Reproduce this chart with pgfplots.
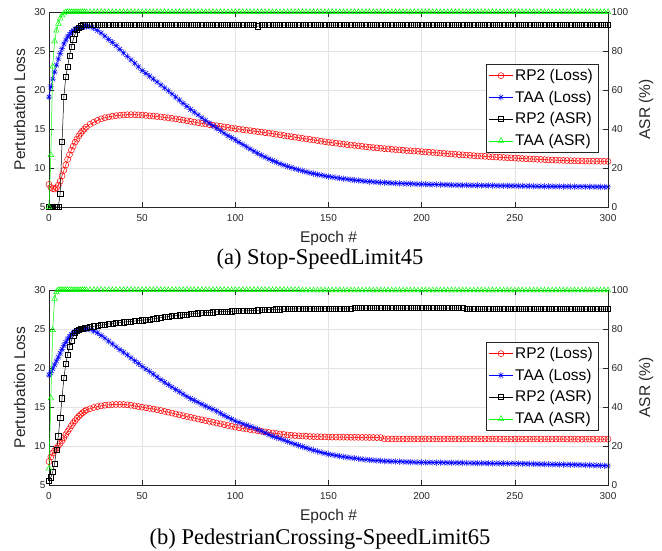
\documentclass[border=0pt]{standalone}
\usepackage{fontspec}
\setmainfont{Liberation Sans}
\newfontfamily\capfont{Liberation Serif}
\usepackage{pgfplots}
\usepackage{pgfplotstable}
\pgfplotsset{compat=1.18}

\pgfdeclareplotmark{mstar}{%
  \pgfpathmoveto{\pgfqpoint{-\pgfplotmarksize}{0pt}}\pgfpathlineto{\pgfqpoint{\pgfplotmarksize}{0pt}}%
  \pgfpathmoveto{\pgfqpoint{0pt}{-\pgfplotmarksize}}\pgfpathlineto{\pgfqpoint{0pt}{\pgfplotmarksize}}%
  \pgfpathmoveto{\pgfqpoint{-0.707\pgfplotmarksize}{-0.707\pgfplotmarksize}}\pgfpathlineto{\pgfqpoint{0.707\pgfplotmarksize}{0.707\pgfplotmarksize}}%
  \pgfpathmoveto{\pgfqpoint{-0.707\pgfplotmarksize}{0.707\pgfplotmarksize}}\pgfpathlineto{\pgfqpoint{0.707\pgfplotmarksize}{-0.707\pgfplotmarksize}}%
  \pgfusepathqstroke}

\pgfplotstableread{
e rl tl ra ta
0 7.9 19.1 0 0
1 7.5 20.4 0 26.7
2 7.35 21.4 0 72
3 7.3 22.3 0 85
4 7.45 23.2 0 90.5
5 7.8 24.0 0 94
6 8.3 24.7 6.7 96.7
7 9.0 25.3 33.3 98.3
8 9.7 25.9 56.7 99.3
9 10.4 26.4 66.7 100
10 11.1 26.8 72 100
11 11.7 27.1 77.5 100
12 12.3 27.4 82 100
13 12.8 27.6 86 100
14 13.3 27.8 88.7 100
15 13.7 27.9 90.7 100
16 14.1 28.0 92 100
17 14.45 28.05 92.7 100
18 14.75 28.1 93.3 100
19 15.0 28.12 93.3 100
20 15.25 28.15 93.3 100
22 15.6 28.1 93.3 100
24 15.87 27.95 93.3 100
26 16.1 27.65 93.3 100
28 16.3 27.3 93.3 100
30 16.45 26.9 93.3 100
32 16.55 26.5 93.3 100
34 16.64 26.1 93.3 100
36 16.71 25.68 93.3 100
38 16.76 25.22 93.3 100
40 16.8 24.75 93.3 100
42 16.83 24.31 93.3 100
44 16.84 23.87 93.3 100
46 16.83 23.43 93.3 100
48 16.81 22.97 93.3 100
50 16.78 22.5 93.3 100
52 16.74 22.14 93.3 100
54 16.69 21.78 93.3 100
56 16.65 21.41 93.3 100
58 16.6 21.03 93.3 100
60 16.55 20.65 93.3 100
62 16.49 20.27 93.3 100
64 16.43 19.89 93.3 100
66 16.36 19.5 93.3 100
68 16.29 19.1 93.3 100
70 16.22 18.7 93.3 100
72 16.14 18.3 93.3 100
74 16.05 17.9 93.3 100
76 15.97 17.52 93.3 100
78 15.88 17.16 93.3 100
80 15.8 16.8 93.3 100
82 15.72 16.44 93.3 100
84 15.65 16.08 93.3 100
86 15.57 15.74 93.3 100
88 15.5 15.42 93.3 100
90 15.42 15.1 93.3 100
92 15.35 14.78 93.3 100
94 15.27 14.46 93.3 100
96 15.2 14.16 93.3 100
98 15.12 13.88 93.3 100
100 15.05 13.6 93.3 100
102 14.98 13.3 93.3 100
104 14.92 13.0 93.3 100
106 14.85 12.71 93.3 100
108 14.79 12.43 93.3 100
110 14.72 12.15 93.3 100
112 14.66 11.89 92.7 100
114 14.6 11.63 93.3 100
116 14.53 11.39 93.3 100
118 14.47 11.17 93.3 100
120 14.4 10.95 93.3 100
122 14.32 10.75 93.3 100
124 14.25 10.55 93.3 100
126 14.17 10.37 93.3 100
128 14.1 10.2 93.3 100
130 14.02 10.05 93.3 100
132 13.95 9.91 93.3 100
134 13.88 9.77 93.3 100
136 13.8 9.63 93.3 100
138 13.73 9.5 93.3 100
140 13.66 9.38 93.3 100
142 13.59 9.28 93.3 100
144 13.52 9.17 93.3 100
146 13.44 9.08 93.3 100
148 13.37 8.99 93.3 100
150 13.3 8.9 93.3 100
152 13.24 8.83 93.3 100
154 13.18 8.76 93.3 100
156 13.12 8.69 93.3 100
158 13.06 8.62 93.3 100
160 13.0 8.56 93.3 100
162 12.94 8.51 93.3 100
164 12.89 8.45 93.3 100
166 12.83 8.4 93.3 100
168 12.78 8.35 93.3 100
170 12.72 8.3 93.3 100
172 12.67 8.26 93.3 100
174 12.62 8.22 93.3 100
176 12.58 8.19 93.3 100
178 12.53 8.15 93.3 100
180 12.48 8.12 93.3 100
182 12.44 8.1 93.3 100
184 12.4 8.07 93.3 100
186 12.36 8.05 93.3 100
188 12.32 8.02 93.3 100
190 12.28 8.0 93.3 100
192 12.24 7.99 93.3 100
194 12.21 7.97 93.3 100
196 12.17 7.96 93.3 100
198 12.14 7.94 93.3 100
200 12.1 7.93 93.3 100
202 12.06 7.92 93.3 100
204 12.02 7.9 93.3 100
206 11.99 7.89 93.3 100
208 11.95 7.88 93.3 100
210 11.91 7.86 93.3 100
212 11.87 7.85 93.3 100
214 11.83 7.84 93.3 100
216 11.8 7.82 93.3 100
218 11.76 7.81 93.3 100
220 11.72 7.8 93.3 100
222 11.69 7.79 93.3 100
224 11.65 7.79 93.3 100
226 11.62 7.78 93.3 100
228 11.58 7.77 93.3 100
230 11.55 7.77 93.3 100
232 11.52 7.76 93.3 100
234 11.49 7.75 93.3 100
236 11.46 7.75 93.3 100
238 11.43 7.74 93.3 100
240 11.4 7.73 93.3 100
242 11.37 7.72 93.3 100
244 11.35 7.72 93.3 100
246 11.32 7.71 93.3 100
248 11.3 7.71 93.3 100
250 11.27 7.7 93.3 100
252 11.24 7.69 93.3 100
254 11.22 7.69 93.3 100
256 11.19 7.68 93.3 100
258 11.17 7.68 93.3 100
260 11.14 7.67 93.3 100
262 11.12 7.66 93.3 100
264 11.1 7.66 93.3 100
266 11.07 7.65 93.3 100
268 11.05 7.65 93.3 100
270 11.03 7.64 93.3 100
272 11.01 7.63 93.3 100
274 10.99 7.63 93.3 100
276 10.97 7.62 93.3 100
278 10.96 7.62 93.3 100
280 10.94 7.61 93.3 100
282 10.93 7.61 93.3 100
284 10.92 7.6 93.3 100
286 10.9 7.6 93.3 100
288 10.89 7.6 93.3 100
290 10.88 7.59 93.3 100
292 10.87 7.59 93.3 100
294 10.87 7.58 93.3 100
296 10.86 7.58 93.3 100
298 10.86 7.57 93.3 100
300 10.85 7.57 93.3 100
}\tA

\pgfplotstableread{
e rl tl ra ta
0 8.0 19.1 2 8.5
1 8.6 19.4 4 44.5
2 9.1 19.9 6.7 79.5
3 9.4 20.4 11 95.5
4 9.7 20.9 18 99
5 10.0 21.4 25 100
6 10.35 21.9 34.5 100
7 10.7 22.4 44.5 100
8 11.05 22.9 55 100
9 11.45 23.3 62 100
10 11.85 23.7 67 100
11 12.2 24.0 71 100
12 12.6 24.3 74 100
13 12.95 24.5 76.5 100
14 13.25 24.65 78 100
15 13.55 24.78 79 100
16 13.8 24.88 79.5 100
17 14.05 24.95 80 100
18 14.25 25.0 80.3 100
19 14.45 25.02 80.6 100
20 14.6 25.02 80.8 100
22 14.78 24.93 81.1 100
24 14.93 24.75 81.4 100
26 15.05 24.5 81.7 100
28 15.15 24.17 82.0 100
30 15.22 23.82 82.3 100
32 15.27 23.45 82.6 100
34 15.31 23.08 82.8 100
36 15.33 22.72 83.1 100
38 15.33 22.35 83.3 100
40 15.32 22.02 83.5 100
42 15.28 21.67 83.7 100
44 15.22 21.3 83.9 100
46 15.14 20.93 84.1 100
48 15.06 20.57 84.3 100
50 14.98 20.2 84.5 100
52 14.9 19.87 84.7 100
54 14.82 19.55 84.9 100
56 14.74 19.2 85.2 100
58 14.65 18.85 85.5 100
60 14.55 18.5 85.8 100
62 14.44 18.18 86.1 100
64 14.33 17.86 86.4 100
66 14.22 17.55 86.7 100
68 14.11 17.25 86.9 100
70 14.0 16.95 87.1 100
72 13.89 16.65 87.3 100
74 13.78 16.35 87.5 100
76 13.68 16.08 87.7 100
78 13.57 15.84 87.9 100
80 13.46 15.6 88.1 100
82 13.36 15.36 88.2 100
84 13.26 15.12 88.4 100
86 13.16 14.9 88.5 100
88 13.05 14.7 88.6 100
90 12.95 14.48 88.8 100
92 12.84 14.2 88.9 100
94 12.74 13.93 89.0 100
96 12.63 13.68 89.0 100
98 12.53 13.44 89.1 100
100 12.42 13.2 89.2 100
102 12.34 13.02 89.3 100
104 12.26 12.84 89.3 100
106 12.18 12.67 89.4 100
108 12.11 12.51 89.5 100
110 12.03 12.35 89.5 100
112 11.96 12.14 89.6 100
114 11.88 11.92 89.7 100
116 11.81 11.69 89.8 100
118 11.73 11.47 89.9 100
120 11.66 11.25 90.0 100
122 11.6 11.09 90.1 100
124 11.54 10.93 90.1 100
126 11.48 10.76 90.2 100
128 11.42 10.58 90.2 100
130 11.37 10.4 90.3 100
132 11.34 10.24 90.3 100
134 11.31 10.08 90.3 100
136 11.28 9.92 90.3 99.8
138 11.25 9.76 90.3 99.8
140 11.22 9.6 90.3 99.8
142 11.2 9.46 90.3 99.8
144 11.19 9.32 90.3 99.8
146 11.17 9.19 90.3 99.8
148 11.16 9.07 90.3 99.8
150 11.15 8.95 90.3 99.8
152 11.14 8.87 90.3 99.8
154 11.14 8.78 90.3 99.8
156 11.13 8.7 90.3 99.8
158 11.13 8.62 90.3 99.8
160 11.12 8.55 90.3 99.8
162 11.12 8.49 90.3 99.8
164 11.11 8.43 90.7 99.8
166 11.11 8.36 90.7 99.8
168 11.1 8.3 90.7 99.8
170 11.1 8.25 90.7 99.8
172 11.09 8.21 90.7 99.8
174 11.09 8.17 90.7 99.8
176 11.08 8.13 90.7 99.8
178 11.08 8.1 90.7 99.8
180 10.92 8.07 90.7 99.8
182 10.91 8.05 90.7 99.8
184 10.9 8.03 90.7 99.8
186 10.9 8.01 90.7 99.8
188 10.9 7.99 90.7 99.8
190 10.9 7.97 90.7 99.8
192 10.9 7.96 90.7 99.8
194 10.9 7.94 90.7 99.8
196 10.9 7.93 90.7 99.8
198 10.9 7.91 90.7 99.8
200 10.9 7.9 90.7 99.8
202 10.9 7.89 90.7 99.8
204 10.9 7.89 90.7 99.8
206 10.9 7.88 90.7 99.8
208 10.9 7.87 90.7 99.8
210 10.9 7.87 90.7 99.8
212 10.9 7.86 90.7 99.8
214 10.9 7.85 90.7 99.8
216 10.9 7.85 90.7 99.8
218 10.9 7.84 90.7 99.8
220 10.9 7.84 90.7 99.8
222 10.9 7.83 90.7 99.8
224 10.9 7.82 90.2 99.8
226 10.9 7.82 90.2 99.8
228 10.9 7.81 90.2 99.8
230 10.9 7.81 90.2 99.8
232 10.9 7.8 90.2 99.8
234 10.9 7.79 90.2 99.8
236 10.9 7.79 90.2 99.8
238 10.9 7.78 90.2 99.8
240 10.9 7.78 90.2 99.8
242 10.89 7.77 90.2 99.8
244 10.89 7.77 90.2 99.8
246 10.89 7.76 90.2 99.8
248 10.89 7.76 90.2 99.8
250 10.89 7.75 90.2 99.8
252 10.89 7.74 90.2 99.8
254 10.89 7.73 90.2 99.8
256 10.89 7.72 90.2 99.8
258 10.89 7.71 90.2 99.8
260 10.89 7.7 90.2 99.8
262 10.89 7.69 90.2 99.8
264 10.89 7.68 90.2 99.8
266 10.89 7.67 90.2 99.8
268 10.89 7.66 90.2 99.8
270 10.89 7.65 90.2 99.8
272 10.89 7.64 90.2 99.8
274 10.89 7.63 90.2 99.8
276 10.89 7.62 90.2 99.8
278 10.89 7.61 90.2 99.8
280 10.89 7.6 90.2 99.8
282 10.88 7.59 90.2 99.8
284 10.88 7.58 90.2 99.8
286 10.88 7.57 90.2 99.8
288 10.88 7.56 90.2 99.8
290 10.88 7.55 90.2 99.8
292 10.88 7.53 90.2 99.8
294 10.88 7.51 90.2 99.8
296 10.88 7.49 90.2 99.8
298 10.88 7.47 90.2 99.8
300 10.88 7.45 90.2 99.8
}\tB

\definecolor{axgray}{gray}{0.15}
\pgfplotsset{
  base/.style={
    scale only axis, width=559pt, height=195pt,
    xmin=0, xmax=300, anchor=south west, clip=false,
    tick align=inside, major tick length=5pt,
    axis line style={draw=axgray, line width=0.5pt},
    tick style={draw=axgray, line width=0.5pt},
    ticklabel style={font=\fontsize{10}{12}\selectfont, text=axgray},
    /pgf/number format/assume math mode=true,
  },
  leftax/.style={base,
    ymin=5, ymax=30, ytick={5,10,...,30}, xtick={0,50,...,300},
    xtick pos=both, ytick pos=left,
    xticklabel style={yshift=-3.5pt},
    grid=major, grid style={gray!22, line width=0.5pt},
    xlabel={Epoch \#}, ylabel={Perturbation Loss},
    every axis x label/.style={at={(rel axis cs:0.5,0)}, anchor=center, yshift=-31pt,
       font=\fontsize{15.5}{18}\selectfont, text=axgray},
    every axis y label/.style={at={(rel axis cs:0,0.5)}, xshift=-29.5pt, rotate=90, anchor=center,
       font=\fontsize{15.5}{18}\selectfont, text=axgray},
  },
  rightax/.style={base,
    ymin=0, ymax=100, ytick={0,20,...,100},
    axis y line*=right, axis x line=none,
    ylabel={ASR (\%)},
    every axis y label/.style={at={(rel axis cs:1,0.5)}, xshift=38pt, rotate=90, anchor=center,
       font=\fontsize{15.5}{18}\selectfont, text=axgray},
    legend style={at={(0.982,0.733)}, anchor=north east, draw=axgray, fill=white,
      font=\fontsize{15.5}{18}\selectfont, legend cell align=left, inner sep=3pt, row sep=5pt},
    legend image code/.code={\draw[mark repeat=2,mark phase=2] plot coordinates {(0pt,0pt) (12pt,0pt) (24pt,0pt)};},
  },
  rl/.style={red, line width=0.5pt, mark=o, mark size=3pt, mark options={solid}},
  tl/.style={blue, line width=0.5pt, mark=mstar, mark size=3.2pt, mark options={solid}},
  ra/.style={black, line width=0.5pt, mark=square, mark size=2.6pt, mark options={solid}},
  ta/.style={green, line width=0.5pt, mark=triangle, mark size=3.2pt, mark options={solid}},
}

\begin{document}
\begin{tikzpicture}
% ---------- (a) ----------
\begin{axis}[leftax, at={(49pt,343pt)}]
  \addplot[rl] table[x=e,y=rl]{\tA};
  \addplot[tl] table[x=e,y=tl]{\tA};
\end{axis}
\begin{axis}[rightax, at={(49pt,343pt)}]
  \addlegendimage{rl}\addlegendentry{RP2 (Loss)}
  \addlegendimage{tl}\addlegendentry{TAA (Loss)}
  \addplot[ra] table[x=e,y=ra]{\tA}; \addlegendentry{RP2 (ASR)}
  \addplot[ta] table[x=e,y=ta]{\tA}; \addlegendentry{TAA (ASR)}
\end{axis}
\node[font=\capfont\fontsize{22.5}{26}\selectfont, anchor=base] at (320pt,285pt) {(a) Stop-SpeedLimit45};
% ---------- (b) ----------
\begin{axis}[leftax, at={(49pt,65pt)}]
  \addplot[rl] table[x=e,y=rl]{\tB};
  \addplot[tl] table[x=e,y=tl]{\tB};
\end{axis}
\begin{axis}[rightax, at={(49pt,65pt)}]
  \addlegendimage{rl}\addlegendentry{RP2 (Loss)}
  \addlegendimage{tl}\addlegendentry{TAA (Loss)}
  \addplot[ra] table[x=e,y=ra]{\tB}; \addlegendentry{RP2 (ASR)}
  \addplot[ta] table[x=e,y=ta]{\tB}; \addlegendentry{TAA (ASR)}
\end{axis}
\node[font=\capfont\fontsize{22.5}{26}\selectfont, anchor=base] at (320pt,6pt) {(b) PedestrianCrossing-SpeedLimit65};
\pgfresetboundingbox
\path[use as bounding box] (0,0) rectangle (662pt,550pt);
\end{tikzpicture}
\end{document}
